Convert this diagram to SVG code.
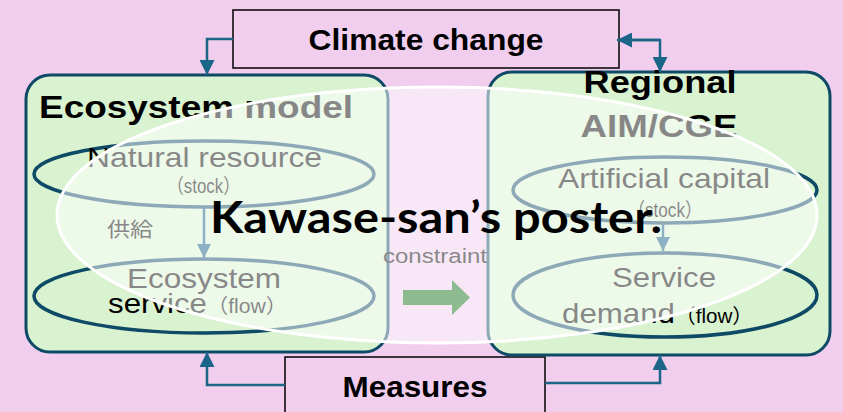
<svg xmlns="http://www.w3.org/2000/svg" width="843" height="412" viewBox="0 0 843 412">
<defs>
<style>
.bg{fill:#f1ceee}
.box{fill:#d9f2d0;stroke:#0e4a66;stroke-width:3}
.ell{fill:none;stroke:#0e4a66;stroke-width:3.5}
.ext{fill:#f1ceee;stroke:#000;stroke-width:1.5}
.conn{fill:none;stroke:#1b6588;stroke-width:2.5}
.inner{fill:none;stroke:#0f5a85;stroke-width:2.5}
.tb{font-family:"Liberation Sans",Arial,sans-serif;font-weight:bold;fill:#000}
.tr{font-family:"Liberation Sans","Noto Sans CJK JP",sans-serif;fill:#000}
.big{font-family:Lato,"Open Sans",sans-serif;font-weight:bold;fill:#000}
</style>
<marker id="ah" viewBox="0 0 10 10" refX="10" refY="5" markerWidth="15" markerHeight="15" markerUnits="userSpaceOnUse" orient="auto">
<path d="M0,0 L10,5 L0,10 z" fill="#1b6588"/>
</marker>
<marker id="ahi" viewBox="0 0 10 10" refX="10" refY="5" markerWidth="14" markerHeight="14" markerUnits="userSpaceOnUse" orient="auto">
<path d="M0,0 L10,5 L0,10 z" fill="#0f5a85"/>
</marker>
</defs>
<rect class="bg" x="0" y="0" width="843" height="412"/>

<g id="climate-change">
<rect class="ext" x="233" y="10" width="386" height="58"/>
<text class="tb" x="426" y="50" font-size="30" text-anchor="middle" textLength="235" lengthAdjust="spacingAndGlyphs">Climate change</text>
</g>

<g id="measures">
<rect class="ext" x="285" y="357" width="260" height="70"/>
<text class="tb" x="415" y="397" font-size="30" text-anchor="middle" textLength="145" lengthAdjust="spacingAndGlyphs">Measures</text>
</g>

<g id="ecosystem-model">
<rect class="box" x="26" y="75" width="362" height="277" rx="24"/>
<text class="tb" x="39" y="118" font-size="32" textLength="314" lengthAdjust="spacingAndGlyphs">Ecosystem model</text>
</g>

<g id="regional-aim-cge">
<rect class="box" x="488" y="72" width="342" height="283" rx="24"/>
<text class="tb" x="660" y="93" font-size="32" text-anchor="middle" textLength="153" lengthAdjust="spacingAndGlyphs">Regional</text>
<text class="tb" x="659" y="137" font-size="32" text-anchor="middle" textLength="157" lengthAdjust="spacingAndGlyphs">AIM/CGE</text>
</g>

<g id="natural-resource">
<ellipse class="ell" cx="204" cy="174" rx="170" ry="33"/>
<text class="tr" x="87" y="167" font-size="28" textLength="235" lengthAdjust="spacingAndGlyphs">Natural resource</text>
<text class="tr" x="167" y="193" font-size="20" textLength="73" lengthAdjust="spacingAndGlyphs">（stock）</text>
</g>

<g id="ecosystem-service">
<ellipse class="ell" cx="204" cy="296" rx="170" ry="37"/>
<text class="tr" x="127" y="288" font-size="28" textLength="154" lengthAdjust="spacingAndGlyphs">Ecosystem</text>
<text class="tr" x="108" y="313" font-size="28" textLength="99" lengthAdjust="spacingAndGlyphs">service</text>
<text class="tr" x="207" y="313" font-size="20" textLength="80" lengthAdjust="spacingAndGlyphs">（flow）</text>
</g>

<g id="artificial-capital">
<ellipse class="ell" cx="665" cy="190" rx="152" ry="33"/>
<text class="tr" x="558" y="188" font-size="28" textLength="212" lengthAdjust="spacingAndGlyphs">Artificial capital</text>
<text class="tr" x="628" y="217" font-size="20" textLength="74" lengthAdjust="spacingAndGlyphs">（stock）</text>
</g>

<g id="service-demand">
<ellipse class="ell" cx="665" cy="295" rx="152" ry="42"/>
<text class="tr" x="612" y="287" font-size="28" textLength="104" lengthAdjust="spacingAndGlyphs">Service</text>
<text class="tr" x="562" y="323" font-size="28" textLength="113" lengthAdjust="spacingAndGlyphs">demand</text>
<text class="tr" x="675" y="323" font-size="20" textLength="78" lengthAdjust="spacingAndGlyphs">（flow）</text>
</g>

<g id="connectors">
<path class="conn" d="M233,39 H207 V75" marker-end="url(#ah)"/>
<path class="conn" d="M660,40 H617" marker-end="url(#ah)"/>
<path class="conn" d="M619,40 H660 V72" marker-end="url(#ah)"/>
<path class="conn" d="M285,385 H207 V352" marker-end="url(#ah)"/>
<path class="conn" d="M545,383 H660 V355" marker-end="url(#ah)"/>
<path class="inner" d="M204,207 V258" marker-end="url(#ahi)"/>
<path class="inner" d="M663,223 V251" marker-end="url(#ahi)"/>
<text class="tr" x="107" y="237" font-size="20" textLength="46" lengthAdjust="spacingAndGlyphs">供給</text>
<text class="tr" x="383" y="263" font-size="20" textLength="104" lengthAdjust="spacingAndGlyphs">constraint</text>
<path d="M403,290 H452 V280 L470,297.5 L452,315 V305 H403 z" fill="#0e6e10"/>
</g>

<g id="overlay">
<ellipse cx="437" cy="215" rx="380" ry="128" fill="#fff" fill-opacity="0.53" stroke="#fff" stroke-width="3"/>
<text class="big" x="436" y="233" font-size="44" text-anchor="middle" textLength="452" lengthAdjust="spacingAndGlyphs">Kawase-san’s poster.</text>
</g>
</svg>
